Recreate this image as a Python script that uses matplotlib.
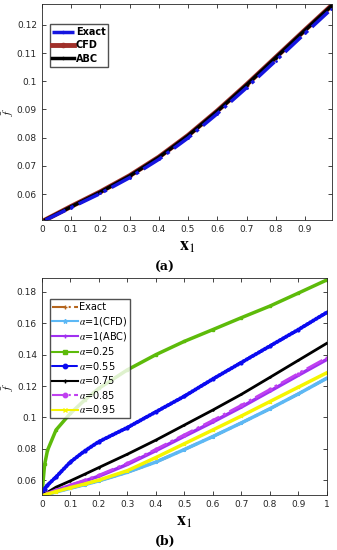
import matplotlib
matplotlib.use("Agg")
import matplotlib.pyplot as plt

# ---- panel (a) data ----
xa = [0.013, 0.1, 0.2, 0.3, 0.4, 0.5, 0.6, 0.7, 0.8, 0.9, 0.99]
fa_cfd = [0.0509, 0.0556, 0.0608, 0.0665, 0.0731, 0.0808, 0.0895, 0.0988, 0.1085, 0.1182, 0.1268]
fa_abc = [0.0509, 0.0555, 0.0607, 0.0664, 0.0730, 0.0807, 0.0894, 0.0987, 0.1084, 0.1181, 0.1267]
fa_exact = [0.0508, 0.0552, 0.0602, 0.0658, 0.0723, 0.0799, 0.0885, 0.0977, 0.1073, 0.1170, 0.1256]
xa_ticks = [0, 0.1, 0.2, 0.3, 0.4, 0.5, 0.6, 0.7, 0.8, 0.9]
xa_labels = ['0', '0.1', '0.2', '0.3', '0.4', '0.5', '0.6', '0.7', '0.8', '0.9']
ya_ticks = [0.06, 0.07, 0.08, 0.09, 0.1, 0.11, 0.12]
ya_labels = ['0.06', '0.07', '0.08', '0.09', '0.1', '0.11', '0.12']

# ---- panel (b) data ----
xb = [0, 0.01, 0.02, 0.05, 0.1, 0.15, 0.2, 0.3, 0.4, 0.5, 0.6, 0.7, 0.8, 0.9, 1.0]
fb_exact = [0.050, 0.0505, 0.0510, 0.0524, 0.0548, 0.0571, 0.0595, 0.0650, 0.0715, 0.0795, 0.0878, 0.0965, 0.1055, 0.1150, 0.1250]
fb_cfd = [0.050, 0.0505, 0.0510, 0.0524, 0.0548, 0.0571, 0.0595, 0.0650, 0.0715, 0.0795, 0.0878, 0.0965, 0.1055, 0.1150, 0.1250]
fb_abc = [0.050, 0.0507, 0.0514, 0.0535, 0.0565, 0.0594, 0.0625, 0.0700, 0.0788, 0.0880, 0.0971, 0.1066, 0.1167, 0.1269, 0.1370]
fb_025 = [0.050, 0.0700, 0.0790, 0.0920, 0.1025, 0.1110, 0.1185, 0.1303, 0.1400, 0.1485, 0.1560, 0.1636, 0.1710, 0.1793, 0.1877]
fb_055 = [0.050, 0.0545, 0.0568, 0.0620, 0.0715, 0.0785, 0.0845, 0.0935, 0.1035, 0.1135, 0.1245, 0.1350, 0.1455, 0.1560, 0.1670]
fb_075 = [0.050, 0.0512, 0.0522, 0.0555, 0.0595, 0.0637, 0.0680, 0.0765, 0.0855, 0.0951, 0.1047, 0.1147, 0.1255, 0.1364, 0.1473]
fb_085 = [0.050, 0.0508, 0.0516, 0.0538, 0.0569, 0.0599, 0.0631, 0.0707, 0.0796, 0.0889, 0.0981, 0.1077, 0.1178, 0.1280, 0.1380]
fb_095 = [0.050, 0.0505, 0.0511, 0.0527, 0.0552, 0.0575, 0.0600, 0.0660, 0.0744, 0.0832, 0.0920, 0.1009, 0.1101, 0.1193, 0.1285]
xb_ticks = [0, 0.1, 0.2, 0.3, 0.4, 0.5, 0.6, 0.7, 0.8, 0.9, 1]
xb_labels = ['0', '0.1', '0.2', '0.3', '0.4', '0.5', '0.6', '0.7', '0.8', '0.9', '1']
yb_ticks = [0.06, 0.08, 0.1, 0.12, 0.14, 0.16, 0.18]
yb_labels = ['0.06', '0.08', '0.1', '0.12', '0.14', '0.16', '0.18']


def style_axes(ax, xt, xl, yt, yl):
    ax.set_xticks(xt)
    ax.set_xticklabels(xl)
    ax.set_yticks(yt)
    ax.set_yticklabels(yl)
    ax.tick_params(direction='in', top=True, right=True, labelsize=6.5,
                   colors='#262626', length=3, width=0.6)
    for s in ax.spines.values():
        s.set_color('#262626')
        s.set_linewidth(0.6)
    ax.set_xlabel(r'$\mathbf{x}_1$', fontsize=13, labelpad=2)
    ax.set_ylabel(r'$\bar{f}$', fontsize=8)
    ax.yaxis.set_label_coords(-0.09, 0.5)


def main():
    plt.rcParams['mathtext.fontset'] = 'stix'
    fig = plt.figure(figsize=(3.37, 5.5), dpi=100)

    # (a)
    ax1 = fig.add_axes([0.124, 0.6, 0.861, 0.3927])
    ax1.plot(xa, fa_cfd, '-o', color='#A0302A', lw=3.5, ms=2, label='CFD')
    ax1.plot(xa, fa_abc, '-', marker='.', color='black', lw=2.5, ms=2, label='ABC')
    ax1.plot(xa, fa_exact, '-.', marker='.', color='#1515E0', lw=2.5, ms=2, label='Exact')
    h, l = ax1.get_legend_handles_labels()
    ax1.legend([h[2], h[0], h[1]], [l[2], l[0], l[1]], loc='upper left',
               bbox_to_anchor=(0.01, 0.93), prop={'weight': 'bold', 'size': 7},
               handlelength=2.2, borderpad=0.3, labelspacing=0.35,
               handletextpad=0.2, fancybox=False, edgecolor='#262626',
               markerscale=1.5)
    ax1.set_xlim(0, 0.992)
    ax1.set_ylim(0.0508, 0.1274)
    style_axes(ax1, xa_ticks, xa_labels, ya_ticks, ya_labels)
    fig.text(0.49, 0.514, '(a)', ha='center', va='center', fontsize=9,
             fontweight='bold', family='DejaVu Serif')

    # (b)
    ax2 = fig.add_axes([0.124, 0.1, 0.846, 0.3945])
    ax2.plot(xb, fb_exact, '-.', marker='+', color='#B5651D', lw=2, ms=2, label='Exact')
    ax2.plot(xb, fb_cfd, '-', marker='*', color='#5CB8F5', lw=2.5, ms=2, label=r'$\alpha$=1(CFD)')
    ax2.plot(xb, fb_abc, '-', marker='+', color='#A030F0', lw=2.5, ms=2, label=r'$\alpha$=1(ABC)')
    ax2.plot(xb, fb_025, '-', marker='s', color='#5DBB0A', lw=2.5, ms=2, label=r'$\alpha$=0.25')
    ax2.plot(xb, fb_055, linestyle=(0, (0.3, 0.6)), marker='o', color='#0A0AF0',
             lw=2.8, ms=2, dash_capstyle='round', label=r'$\alpha$=0.55')
    ax2.plot(xb, fb_075, '-', marker='+', color='black', lw=2, ms=2, label=r'$\alpha$=0.75')
    ax2.plot(xb, fb_085, '-.', marker='o', color='#C040F0', lw=2, ms=2, label=r'$\alpha$=0.85')
    ax2.plot(xb, fb_095, '-', marker='x', color='#F5F500', lw=2.5, ms=2, label=r'$\alpha$=0.95')
    leg = ax2.legend(loc='upper left', bbox_to_anchor=(0.01, 0.925),
                     prop={'size': 7, 'family': 'DejaVu Sans'}, handlelength=2.6,
                     borderpad=0.3, labelspacing=0.25, handletextpad=0.1,
                     fancybox=False, edgecolor='#262626', markerscale=1.6)
    for line in leg.get_lines():
        line.set_linewidth(1.5)
    ax2.set_xlim(0, 1)
    ax2.set_ylim(0.0505, 0.1889)
    style_axes(ax2, xb_ticks, xb_labels, yb_ticks, yb_labels)
    fig.text(0.49, 0.015, '(b)', ha='center', va='center', fontsize=9,
             fontweight='bold', family='DejaVu Serif')

    fig.savefig('out.png', dpi=100)


if __name__ == '__main__':
    main()
